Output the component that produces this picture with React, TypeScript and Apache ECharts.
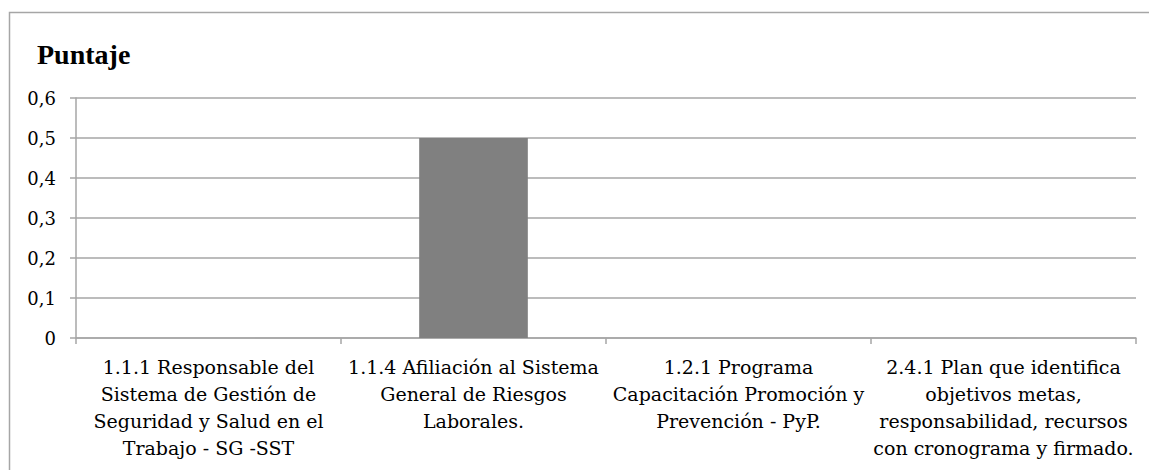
import React, { useEffect, useRef } from "react";
import * as echarts from "echarts";

const titleText = "Puntaje";
const categories = [
  "1.1.1 Responsable del\nSistema de Gestión de\nSeguridad y Salud en el\nTrabajo - SG -SST",
  "1.1.4 Afiliación al Sistema\nGeneral de Riesgos\nLaborales.",
  "1.2.1 Programa\nCapacitación Promoción y\nPrevención - PyP.",
  "2.4.1 Plan que identifica\nobjetivos metas,\nresponsabilidad, recursos\ncon cronograma y firmado.",
];
const puntaje = [0, 0.5, 0, 0];
const yMin = 0;
const yMax = 0.6;
const yInterval = 0.1;

export default function App() {
  const ref = useRef<HTMLDivElement>(null);
  useEffect(() => {
    if (!ref.current) return;
    const chart = echarts.init(ref.current, undefined, { renderer: "svg" });
    const titleFont = "Liberation Serif";
    const labelFont = "DejaVu Serif";
    chart.setOption({
      animation: false,
      backgroundColor: "#ffffff",
      title: {
        text: titleText,
        left: 37,
        top: 40,
        padding: 0,
        textStyle: { fontFamily: titleFont, fontSize: 28, fontWeight: "bold", color: "#000" },
      },
      graphic: [
        {
          type: "rect",
          shape: { x: 9.5, y: 12.5, width: 1200, height: 600 },
          style: { fill: "none", stroke: "#a6a6a6", lineWidth: 1.5 },
          silent: true,
        },
      ],
      grid: { left: 76, right: 13, top: 98, bottom: 132 },
      xAxis: {
        type: "category",
        data: categories,
        axisLine: { show: true, lineStyle: { color: "#a6a6a6", width: 1.5 } },
        axisTick: { show: true, length: 6, lineStyle: { color: "#a6a6a6", width: 1.5 } },
        axisLabel: {
          interval: 0,
          margin: 15,
          fontFamily: labelFont,
          fontSize: 19,
          lineHeight: 27,
          color: "#000",
        },
      },
      yAxis: {
        type: "value",
        min: yMin,
        max: yMax,
        interval: yInterval,
        axisLine: { show: true, lineStyle: { color: "#a6a6a6", width: 1.5 } },
        axisTick: { show: true, length: 6, lineStyle: { color: "#a6a6a6", width: 1.5 } },
        axisLabel: {
          margin: 20,
          fontFamily: labelFont,
          fontSize: 18,
          color: "#000",
          formatter: (v: number) => (v === 0 ? "0" : v.toFixed(1).replace(".", ",")),
        },
        splitLine: { show: true, lineStyle: { color: "#a6a6a6", width: 1.5 } },
      },
      series: [
        {
          type: "bar",
          data: puntaje,
          barWidth: "41%",
          itemStyle: { color: "#808080" },
        },
      ],
    });
    return () => chart.dispose();
  }, []);
  return (
    <div
      ref={ref}
      style={{ position: "absolute", left: 0, top: 0, width: 1149, height: 470 }}
    />
  );
}
